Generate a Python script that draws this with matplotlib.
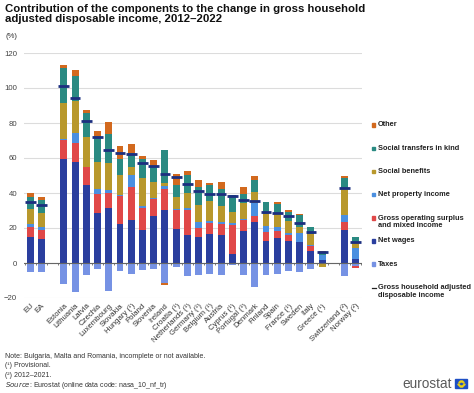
import numpy as np
import matplotlib
matplotlib.use("Agg")
import matplotlib.pyplot as plt
from matplotlib.patches import Rectangle

plt.rcParams["font.family"] = ["Liberation Sans", "DejaVu Sans"]

# ---------------------------------------------------------------------------
# DATA (percentage points)
# ---------------------------------------------------------------------------
nan = np.nan

countries = [
    "EU", "EA", "", "Estonia", "Lithuania", "Latvia", "Czechia", "Luxembourg",
    "Slovakia", "Hungary (¹)", "Poland", "Slovenia", "Ireland", "Croatia (¹)",
    "Netherlands (¹)", "Germany (¹)", "Belgium (¹)", "Austria", "Cyprus (¹)",
    "Portugal (¹)", "Denmark", "Finland", "Spain", "France (¹)", "Sweden",
    "Italy", "Greece (¹)", "", "Switzerland (²)", "Norway (²)",
]

net_wages = [14.6, 13.7, nan, 59.4, 57.5, 44.3, 28.6, 31.4, 22.5, 24.3, 18.6, 26.6,
             30.1, 19.6, 15.8, 14.6, 16.6, 15.8, 5.1, 18.1, 23.4, 12.3, 14.1, 12.3,
             11.8, 7.0, 1.5, nan, 18.6, 2.3]
gross_surplus = [5.7, 5.3, nan, 10.9, 11.1, 10.3, 10.6, 8.6, 15.6, 19.1, 12.8, 10.0,
                 12.2, 10.5, 14.7, 5.4, 6.3, 6.5, 16.8, 6.2, 3.2, 5.2, 4.0, 3.5,
                 0.3, 2.9, 0.3, nan, 4.6, -1.2]
net_property = [2.0, 1.3, nan, 0.3, 5.7, 0.5, 3.1, 1.9, 0.5, 7.1, 1.3, 0.5,
                1.9, 1.0, 1.0, 3.2, 1.3, 1.0, 1.0, 0.8, 7.7, 3.4, 2.2, 1.3,
                4.8, 0.5, 3.0, nan, 4.4, 6.3]
social_benefits = [8.5, 8.3, nan, 20.7, 18.3, 17.0, 15.6, 15.2, 11.5, 4.1, 16.0, 9.2,
                   1.5, 6.6, 8.5, 9.7, 11.2, 9.0, 6.4, 9.2, 6.2, 7.1, 7.9, 6.7,
                   3.4, 6.3, -1.5, nan, 15.2, 3.2]
social_transfers = [7.2, 7.6, nan, 19.9, 14.4, 13.7, 14.8, 16.6, 9.3, 8.3, 10.7, 9.3,
                    18.7, 7.0, 10.5, 10.3, 9.2, 10.0, 9.5, 5.3, 6.7, 6.6, 5.5, 5.5,
                    7.2, 3.9, 1.5, nan, 5.7, 3.0]
other = [2.2, 1.7, nan, 1.8, 3.1, 1.9, 2.5, 6.6, 7.6, 5.3, 1.5, 3.4,
         -0.8, 6.2, 2.2, 4.4, 1.1, 4.2, 0.3, 3.6, 2.3, 0.5, 0.9, 1.2,
         0.5, 0.2, 0.7, nan, 1.4, 0.0]
taxes = [-5.3, -5.0, nan, -11.8, -16.4, -6.7, -3.3, -16.2, -4.4, -6.3, -3.8, -3.3,
         -11.6, -2.3, -7.3, -6.7, -6.3, -7.1, -1.0, -7.1, -13.7, -6.7, -6.3, -4.4,
         -5.2, -3.4, -0.8, nan, -7.6, -1.5]
ghadi = [34.9, 32.9, nan, 100.9, 94.1, 80.9, 72.0, 64.3, 62.9, 62.1, 57.1, 55.2,
         51.0, 48.9, 45.1, 41.3, 39.4, 39.4, 38.5, 35.8, 35.6, 29.3, 28.6, 26.6,
         22.9, 17.5, 6.5, nan, 42.8, 12.2]

# stacking order (bottom -> top) and colours
components = [
    ("Net wages", net_wages, "#2a3e9e"),
    ("Gross operating surplus\nand mixed income", gross_surplus, "#e04848"),
    ("Net property income", net_property, "#4a8fe0"),
    ("Social benefits", social_benefits, "#b8982c"),
    ("Social transfers in kind", social_transfers, "#2a8a82"),
    ("Other", other, "#d2691e"),
]
taxes_color = "#7692e4"
ghadi_color = "#1c2f80"

# ---------------------------------------------------------------------------
# FIGURE
# ---------------------------------------------------------------------------
W, H = 474, 393
fig = plt.figure(figsize=(W / 100, H / 100), dpi=100)
ax = fig.add_axes([24 / W, 1 - 298 / H, (362 - 24) / W, (298 - 53) / H])

x = np.arange(len(countries))
bw = 0.62
pos_base = np.zeros(len(x))
neg_base = np.zeros(len(x))

# taxes go first below zero
tv = np.nan_to_num(np.array(taxes, dtype=float))
ax.bar(x, tv, bw, bottom=neg_base, color=taxes_color, zorder=2)
neg_base += tv

for name, vals, col in components:
    v = np.nan_to_num(np.array(vals, dtype=float))
    pos = np.where(v > 0, v, 0)
    neg = np.where(v < 0, v, 0)
    ax.bar(x, pos, bw, bottom=pos_base, color=col, zorder=2)
    ax.bar(x, neg, bw, bottom=neg_base, color=col, zorder=2)
    pos_base += pos
    neg_base += neg

g = np.array(ghadi, dtype=float)
ax.hlines(g, x - 0.48, x + 0.48, color=ghadi_color, lw=2.0, zorder=3)

ax.set_xlim(-0.55, len(x) - 0.45)
ax.set_ylim(-20, 120)
ax.set_yticks(np.arange(-20, 121, 20))
ax.yaxis.grid(True, color="#dcdcdc", lw=0.8, zorder=0)
ax.set_axisbelow(True)
for s in ax.spines.values():
    s.set_visible(False)
ax.tick_params(axis="y", length=0, labelsize=5.6, labelcolor="#444444", pad=5)

ax.axhline(0, color="#666666", lw=0.8, zorder=4)
ax.vlines(np.arange(len(x) + 1) - 0.5, -1.4, 0, color="#666666", lw=0.6, zorder=4)

ax.set_xticks(x)
ax.set_xticklabels(countries, rotation=45, ha="right", rotation_mode="anchor",
                   fontsize=5.6, color="#333333")
ax.tick_params(axis="x", length=0, pad=3)

# titles
fig.text(5 / W, 1 - 4 / H,
         "Contribution of the components to the change in gross household\n"
         "adjusted disposable income, 2012\u20132022",
         ha="left", va="top", fontsize=8.2, fontweight="bold", color="#111111",
         linespacing=1.0)
fig.text(5 / W, 1 - 36 / H, "(%)", ha="left", va="center", fontsize=5.6, color="#333333")

# legend (manual, right side)
legend_items = [
    ("Other", "#d2691e", 125),
    ("Social transfers in kind", "#2a8a82", 148.5),
    ("Social benefits", "#b8982c", 171.5),
    ("Net property income", "#4a8fe0", 194.5),
    ("Gross operating surplus\nand mixed income", "#e04848", 222),
    ("Net wages", "#2a3e9e", 241),
    ("Taxes", taxes_color, 264),
]
for label, col, yy in legend_items:
    ym = yy if "\n" not in label else yy - 4
    fig.add_artist(Rectangle((372 / W, 1 - (ym + 1.7) / H), 3.4 / W, 3.4 / H,
                             transform=fig.transFigure, color=col))
    fig.text(378 / W, 1 - yy / H, label, ha="left", va="center", fontsize=5.35,
             fontweight="bold", color="#222222", linespacing=1.15)
fig.add_artist(plt.Line2D([371.5 / W, 376 / W], [1 - 287.5 / H, 1 - 287.5 / H],
                          transform=fig.transFigure, color="#222222", lw=0.9))
fig.text(378 / W, 1 - 291.5 / H, "Gross household adjusted\ndisposable income",
         ha="left", va="center", fontsize=5.35, fontweight="bold", color="#222222",
         linespacing=1.15)

# notes
notes = [
    "Note: Bulgaria, Malta and Romania, incomplete or not available.",
    "(¹) Provisional.",
    "(²) 2012\u20132021.",
]
for i, t in enumerate(notes):
    fig.text(5 / W, 1 - (356 + i * 9.7) / H, t, ha="left", va="center",
             fontsize=5.0, color="#333333")
fig.text(5 / W, 1 - 385.5 / H, r"$\it{Source}$: Eurostat (online data code: nasa_10_nf_tr)",
         ha="left", va="center", fontsize=5.0, color="#333333")

# eurostat logo
fig.text(452 / W, 1 - 384 / H, "eurostat", ha="right", va="center", fontsize=9.8,
         color="#5a5a5a")
fig.add_artist(Rectangle((455 / W, 1 - 388 / H), 12 / W, 9 / H,
                         transform=fig.transFigure, color="#1e4fc4"))
ang = np.linspace(0, 2 * np.pi, 13)[:-1]
fig.add_artist(plt.Line2D(461 / W + 2.6 / W * np.cos(ang), 1 - 383.5 / H + 2.6 / H * np.sin(ang),
                          transform=fig.transFigure, ls="none", marker="o", ms=0.6,
                          color="#f5d90a"))

fig.savefig("out.png", dpi=100)
